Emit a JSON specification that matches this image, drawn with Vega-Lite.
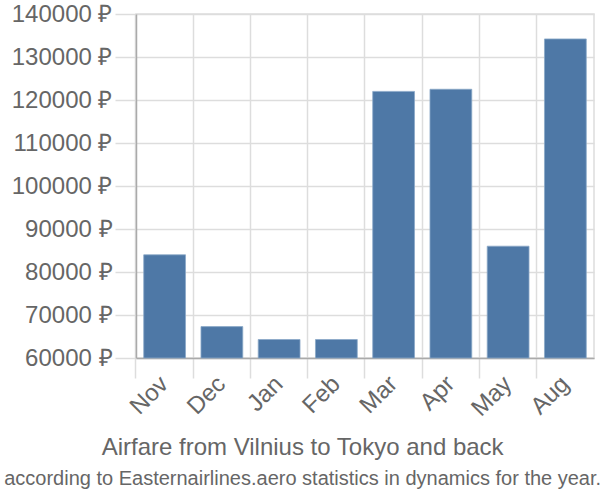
{
  "$schema": "https://vega.github.io/schema/vega-lite/v6.json",
  "width": 458,
  "height": 344,
  "autosize": {"type": "none"},
  "padding": {"left": 136, "top": 14, "right": 6, "bottom": 142},
  "background": "white",
  "config": {
    "font": "Liberation Sans",
    "view": {"stroke": "#dddddd", "strokeWidth": 1.5}
  },
  "title": {
    "text": "Airfare from Vilnius to Tokyo and back",
    "subtitle": "according to Easternairlines.aero statistics in dynamics for the year.",
    "orient": "bottom",
    "anchor": "middle",
    "frame": "bounds",
    "offset": 15,
    "fontSize": 24,
    "fontWeight": "normal",
    "color": "#666666",
    "subtitleFontSize": 20,
    "subtitleColor": "#666666",
    "subtitlePadding": 9,
    "font": "Liberation Sans",
    "subtitleFont": "Liberation Sans"
  },
  "data": {
    "values": [
      {"month": "Nov", "price": 84000},
      {"month": "Dec", "price": 67300},
      {"month": "Jan", "price": 64300},
      {"month": "Feb", "price": 64300},
      {"month": "Mar", "price": 122000},
      {"month": "Apr", "price": 122500},
      {"month": "May", "price": 86000},
      {"month": "Aug", "price": 134200}
    ]
  },
  "mark": {"type": "bar", "color": "#4e78a6", "stroke": "#8aa8c8", "strokeWidth": 0.8},
  "encoding": {
    "x": {
      "field": "month",
      "type": "nominal",
      "sort": null,
      "scale": {"paddingInner": 0.27, "paddingOuter": 0.135},
      "axis": {
        "title": null,
        "labelAngle": -45,
        "labelAlign": "right",
        "labelBaseline": "middle",
        "labelFontSize": 24,
        "labelColor": "#666666",
        "labelPadding": 2,
        "tickSize": 20,
        "tickColor": "#dddddd",
        "tickWidth": 1.5,
        "bandPosition": -0.185,
        "grid": true,
        "gridColor": "#dddddd",
        "gridWidth": 1.5,
        "domainColor": "#aaaaaa",
        "domainWidth": 1.5
      }
    },
    "y": {
      "field": "price",
      "type": "quantitative",
      "scale": {"domain": [60000, 140000], "zero": false, "nice": false},
      "axis": {
        "title": null,
        "values": [60000, 70000, 80000, 90000, 100000, 110000, 120000, 130000, 140000],
        "labelExpr": "datum.value + ' ₽'",
        "labelFontSize": 24,
        "labelColor": "#666666",
        "labelPadding": 3,
        "tickSize": 21,
        "tickColor": "#dddddd",
        "tickWidth": 1.5,
        "grid": true,
        "gridColor": "#dddddd",
        "gridWidth": 1.5,
        "domainColor": "#aaaaaa",
        "domainWidth": 1.5
      }
    },
    "y2": {"datum": 60000}
  }
}
